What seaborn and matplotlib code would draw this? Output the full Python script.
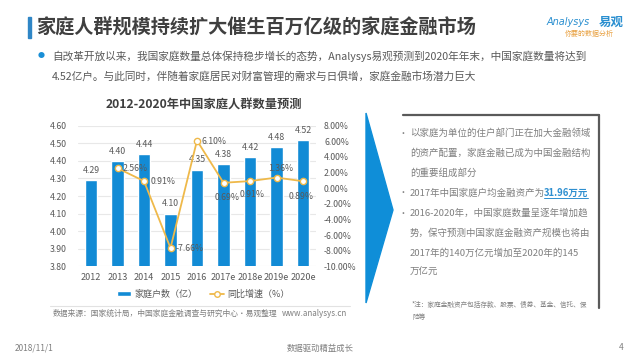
import numpy as np
import pandas as pd
import seaborn as sns
import matplotlib.pyplot as plt
from matplotlib.patches import Patch, Polygon, Rectangle
from matplotlib.lines import Line2D

# 数据
years = ["2012", "2013", "2014", "2015", "2016", "2017e", "2018e", "2019e", "2020e"]
households = [4.29, 4.40, 4.44, 4.10, 4.35, 4.38, 4.42, 4.48, 4.52]
growth = [np.nan, 2.56, 0.91, -7.66, 6.10, 0.69, 0.91, 1.36, 0.89]
growth_labels = ["", "2.56%", "0.91%", "-7.66%", "6.10%", "0.69%", "0.91%", "1.36%", "0.89%"]

left_ticks = [3.8, 3.9, 4.0, 4.1, 4.2, 4.3, 4.4, 4.5, 4.6]
right_ticks = [-10, -8, -6, -4, -2, 0, 2, 4, 6, 8]

# 百分比标签的偏移 (px, 上为正) 和对齐
pct_offsets = [(0, 0), (5, 0), (7, 0), (5, 0), (5, -1), (4, -15), (2.5, -13), (4.5, 9), (-1.5, -15)]
pct_ha = ["left", "left", "left", "left", "left", "center", "center", "center", "center"]

BAR_C = "#128bd5"
LINE_C = "#efb94a"
TXT = "#595959"
GRAY = "#7f7f7f"

sns.set_theme(style="white")
plt.rcParams['font.family'] = ['Noto Sans CJK SC', 'DejaVu Sans']

W, H = 640, 360
def px(x, y):
    return x / W, 1 - y / H

fig = plt.figure(figsize=(6.4, 3.6), dpi=100, facecolor="white")

# -- 图表 --
l, r, t, b = 77.75, 316.25, 125.7, 266.3
ax = fig.add_axes([l / W, 1 - b / H, (r - l) / W, (b - t) / H])
df = pd.DataFrame({"year": years, "hh": households, "g": growth})
sns.barplot(data=df, x="year", y="hh", color=BAR_C, saturation=1, width=0.465, ax=ax)
ax.set_ylim(3.8, 4.6)
ax.set_yticks(left_ticks)
ax.set_yticklabels([f"{v:.2f}" for v in left_ticks])
ax.set_xlim(-0.5, 8.5)
ax.set_xlabel("")
ax.set_ylabel("")
ax.grid(axis="y", color="#e8e8e8", lw=0.8)
ax.set_axisbelow(True)
for s in ax.spines.values():
    s.set_visible(False)
ax.tick_params(axis="y", length=0, pad=7.7, labelsize=6.3, labelcolor=TXT)
ax.tick_params(axis="x", length=0, pad=4.8, labelsize=6.5, labelcolor=TXT)
for i, v in enumerate(households):
    ax.annotate(f"{v:.2f}", (i, v), xytext=(0, 7), textcoords="offset points",
                ha="center", va="center", fontsize=6.3, color=TXT)

ax2 = ax.twinx()
idx = list(range(len(years)))
sns.lineplot(x=idx, y=growth, ax=ax2, color=LINE_C, lw=1.3, marker="o",
             markersize=4.5, markerfacecolor="white", markeredgecolor=LINE_C,
             markeredgewidth=1.0)
ax2.set_ylim(-10, 8)
ax2.set_yticks(right_ticks)
ax2.set_yticklabels([f"{v:.2f}%" for v in right_ticks])
ax2.set_xlim(-0.5, 8.5)
ax2.set_ylabel("")
for s in ax2.spines.values():
    s.set_visible(False)
ax2.tick_params(axis="y", length=0, pad=5.6, labelsize=6.3, labelcolor=TXT)
ax2.grid(False)
for i, (v, lab) in enumerate(zip(growth, growth_labels)):
    if lab == "":
        continue
    dx, dy = pct_offsets[i]
    ax2.annotate(lab, (i, v), xytext=(dx * 0.72, dy * 0.72), textcoords="offset points",
                 ha=pct_ha[i], va="center", fontsize=6.3, color=TXT)

handles = [Patch(facecolor=BAR_C),
           Line2D([0], [0], color=LINE_C, lw=1.3, marker="o", markersize=4,
                  markerfacecolor="white", markeredgecolor=LINE_C)]
ax2.legend(handles, ["家庭户数（亿）", "同比增速（%）"], loc="center",
           bbox_to_anchor=px(203, 294), bbox_transform=fig.transFigure, ncol=2,
           frameon=False, fontsize=6.5, handlelength=1.6, handleheight=0.6,
           handletextpad=0.3, columnspacing=1.4, labelcolor=TXT)

fig.text(*px(204, 105), "2012-2020年中国家庭人群数量预测", ha="center", va="center",
         fontsize=8.8, fontweight="bold", color="#3f3f3f")

# 数据来源
fig.add_artist(Line2D([50 / W, 350 / W], [1 - 306 / H] * 2, color="#e2e2e2", lw=0.8))
fig.text(*px(53, 314), "数据来源：国家统计局，中国家庭金融调查与研究中心·易观整理",
         ha="left", va="center", fontsize=5.6, color=GRAY)
fig.text(*px(347, 314), "www.analysys.cn", ha="right", va="center", fontsize=5.8, color=GRAY)

# -- 标题 --
fig.add_artist(Rectangle(px(28, 38), 3 / W, 21 / H, color="#2f86c6", transform=fig.transFigure))
fig.text(*px(36, 28), "家庭人群规模持续扩大催生百万亿级的家庭金融市场", ha="left", va="center",
         fontsize=13.8, fontweight="bold", color="#3f3f3f")
fig.text(*px(547, 22), "Analysys", ha="left", va="center", fontsize=7, color="#2a8fd0",
         family=['DejaVu Sans'], style="italic")
fig.text(*px(599, 22), "易观", ha="left", va="center", fontsize=9, fontweight="bold", color="#2a8fd0")
fig.text(*px(565, 34), "你要的数据分析", ha="left", va="center", fontsize=5, color="#e8a040")

fig.text(*px(41, 56), "●", ha="center", va="center", fontsize=5, color="#1a8fd6")
fig.text(*px(52, 56), "自改革开放以来，我国家庭数量总体保持稳步增长的态势，Analysys易观预测到2020年年末，中国家庭数量将达到",
         ha="left", va="center", fontsize=7.7, color=TXT)
fig.text(*px(52, 76), "4.52亿户。与此同时，伴随着家庭居民对财富管理的需求与日俱增，家庭金融市场潜力巨大",
         ha="left", va="center", fontsize=7.7, color=TXT)

# -- 右侧 --
fig.add_artist(Polygon([px(366, 113), px(393, 210), px(366, 303)], closed=True,
                       color="#0f8ed8", transform=fig.transFigure))
fig.add_artist(Line2D([403 / W, 599 / W], [1 - 115 / H] * 2, color="#5a5a5a", lw=1.6))
fig.add_artist(Line2D([599 / W, 599 / W], [1 - 115 / H, 1 - 308 / H], color="#5a5a5a", lw=1.6))

box_lines = [
    (True, "以家庭为单位的住户部门正在加大金融领域", 133.3),
    (False, "的资产配置，家庭金融已成为中国金融结构", 153.3),
    (False, "的重要组成部分", 173),
    (True, "2017年中国家庭户均金融资产为", 192.7),
    (True, "2016-2020年，中国家庭数量呈逐年增加趋", 213.3),
    (False, "势，保守预测中国家庭金融资产规模也将由", 233.3),
    (False, "2017年的140万亿元增加至2020年的145", 252.7),
    (False, "万亿元", 272.3),
]
for bullet, txt, y in box_lines:
    if bullet:
        fig.text(*px(403, y), "•", ha="center", va="center", fontsize=6.5, color=GRAY)
    fig.text(*px(410, y), txt, ha="left", va="center", fontsize=6.8, color=GRAY)
fig.text(*px(588, 192.7), "31.96万元", ha="right", va="center", fontsize=6.8,
         fontweight="bold", color="#2e8fd0")
fig.add_artist(Line2D([544 / W, 588 / W], [1 - 197.5 / H] * 2, color="#2e8fd0", lw=0.7))
fig.text(*px(412, 305), "*注：家庭金融资产包括存款、股票、债券、基金、信托、保",
         ha="left", va="center", fontsize=4.8, color=GRAY)
fig.text(*px(412, 316.7), "险等", ha="left", va="center", fontsize=4.8, color=GRAY)

# -- 页脚 --
fig.text(*px(15, 348), "2018/11/1", ha="left", va="center", fontsize=6, color=GRAY)
fig.text(*px(320, 348), "数据驱动精益成长", ha="center", va="center", fontsize=6, color=GRAY)
fig.text(*px(621, 347), "4", ha="center", va="center", fontsize=6, color=GRAY)

fig.savefig("out.png", dpi=100)
